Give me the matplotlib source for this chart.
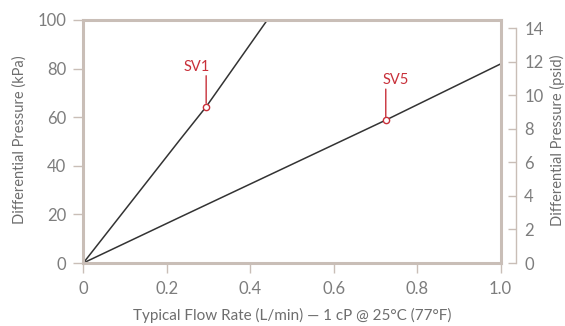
import matplotlib
matplotlib.use('Agg')
import matplotlib.pyplot as plt

plt.rcParams['font.family'] = ['Lato', 'DejaVu Sans']

# Data
sv1_flow = [0, 0.231, 0.2945, 0.441, 0.46]
sv1_kpa = [0, 50.6, 64.3, 100, 104.5]
sv5_flow = [0, 0.231, 0.725, 1.0]
sv5_kpa = [0, 18.8, 58.8, 81.9]
markers = [('SV1', 0.2945, 64.3, -9), ('SV5', 0.725, 58.8, 10)]
x_ticks = [0, 0.2, 0.4, 0.6, 0.8, 1.0]
x_labels = ['0', '0.2', '0.4', '0.6', '0.8', '1.0']
kpa_ticks = [0, 20, 40, 60, 80, 100]
psi_ticks = [0, 2, 4, 6, 8, 10, 12, 14]
KPA_PER_PSI = 6.89476

frame = '#c9beb7'
tick_txt = '#7d7d7d'
lab_txt = '#6e6e6e'
red = '#c8303a'
px = 0.72  # points per pixel at dpi 100

fig = plt.figure(figsize=(5.65, 3.26), dpi=100)
ax = fig.add_axes([83.3 / 565, 63 / 326, (500.5 - 83.3) / 565, 243 / 326])

ax.plot(sv1_flow, sv1_kpa, color='#333333', lw=1.1, zorder=2)
ax.plot(sv5_flow, sv5_kpa, color='#333333', lw=1.1, zorder=2)

for name, fx, fy, dx in markers:
    ax.annotate('', xy=(fx, fy), xytext=(0, 31 * px), textcoords='offset points',
                arrowprops=dict(arrowstyle='-', color=red, lw=1, shrinkA=0, shrinkB=2.5))
    ax.plot([fx], [fy], 'o', ms=4.5, mfc='white', mec=red, mew=1, zorder=4)
    ax.annotate(name, xy=(fx, fy), xytext=(dx * px, 33 * px), textcoords='offset points',
                ha='center', va='bottom', color=red, fontsize=10.5)

ax.set_xlim(0, 1.0)
ax.set_ylim(0, 100)
ax.set_xticks(x_ticks)
ax.set_xticklabels(x_labels)
ax.set_yticks(kpa_ticks)
for s in ax.spines.values():
    s.set_color(frame)
    s.set_linewidth(2.2)
ax.tick_params(axis='both', direction='out', length=10 * px, width=1, color=frame,
               labelcolor=tick_txt, labelsize=12)
ax.tick_params(axis='y', pad=5)
ax.tick_params(axis='x', pad=6)
ax.set_xlabel('Typical Flow Rate (L/min) — 1 cP @ 25°C (77°F)', color=lab_txt, fontsize=11)
ax.set_ylabel('Differential Pressure (kPa)', color=lab_txt, fontsize=10.5)
ax.xaxis.set_label_coords(0.5, -0.185)
ax.yaxis.set_label_coords(-0.135, 0.506)

ax2 = ax.twinx()
ax2.set_ylim(0, 100 / KPA_PER_PSI)
ax2.set_yticks(psi_ticks)
for k in ['top', 'left', 'bottom']:
    ax2.spines[k].set_visible(False)
ax2.spines['right'].set_position(('outward', 11))
ax2.spines['right'].set_bounds(0, 14)
ax2.spines['right'].set_color(frame)
ax2.spines['right'].set_linewidth(1)
ax2.tick_params(axis='y', direction='in', length=8 * px, width=1, color=frame,
                labelcolor=tick_txt, labelsize=12, pad=6)
ax2.set_ylabel('Differential Pressure (psid)', color=lab_txt, fontsize=10.5)
ax2.yaxis.set_label_coords(1.119, 0.506)

fig.savefig('out.png', dpi=100)
